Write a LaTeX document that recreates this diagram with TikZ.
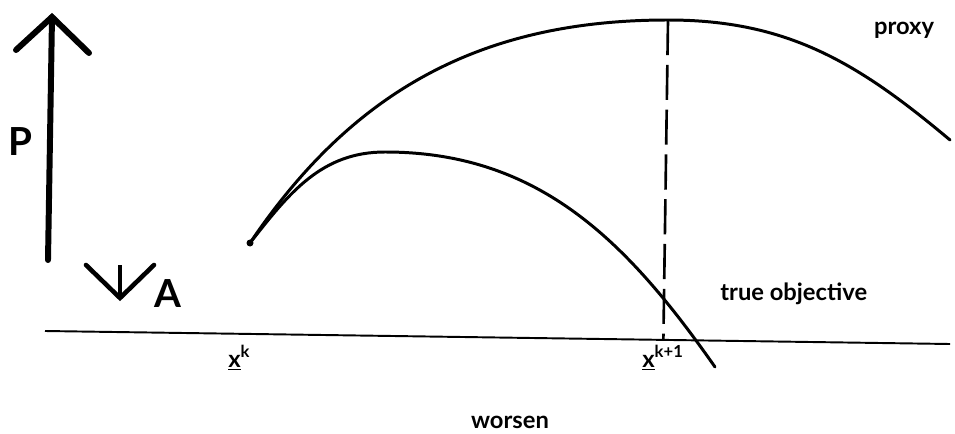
\documentclass[tikz,border=0pt]{standalone}
\usepackage{fontspec}
\setmainfont{Lato}
\usetikzlibrary{positioning, calc}
\tikzset{
  curve/.style={line width=1.7pt, line cap=round},
  axisln/.style={line width=1.1pt},
  bigarr/.style={line width=3.4pt, line cap=round, line join=miter},
  smallarr/.style={line width=2.6pt, line cap=round, line join=miter},
  guide/.style={line width=1.5pt, dash pattern=on 20pt off 5.5pt},
  lbl/.style={font=\fontsize{13.5}{15}\selectfont\bfseries, inner sep=0pt},
  axlbl/.style={font=\fontsize{22}{22}\selectfont\bfseries, inner sep=0pt},
}

\begin{document}
\begin{tikzpicture}[x=0.02cm, y=0.02cm]
  \useasboundingbox (0,0) rectangle (955,433);
  % P / A direction arrows
  \coordinate (pbot) at (48,173);
  \coordinate (ptop) at (52,416);
  \draw[bigarr] (pbot) -- (ptop);
  \draw[bigarr] ($(ptop)+(-36,-33)$) -- (ptop) -- ($(ptop)+(37,-36)$);
  \node[axlbl] (plbl) at (20,291) {P};
  \coordinate (atip) at (120,135);
  \draw[smallarr] ($(atip)+(-34,33)$) -- (atip) -- ($(atip)+(34,33)$);
  \draw[line width=2.2pt] (atip) -- ++(0,33);
  \node[axlbl] (albl) at (168,139) {A};
  % Axis
  \coordinate (axl) at (45,102);
  \coordinate (axr) at (950,89);
  \draw[axisln] (axl) -- (axr);
  % Curves
  \coordinate (xk) at (250,190);
  \coordinate (proxtop) at (668,413);
  \coordinate (proxend) at (950,293);
  \coordinate (truetop) at (385,281);
  \coordinate (trueend) at (715,66);
  \fill (xk) circle (3.5);
  \draw[curve] (xk) to[out=56, in=180] (proxtop) to[out=0, in=140] (proxend);
  \draw[curve] (xk) to[out=52, in=180] (truetop) to[out=0, in=125] (trueend);
  \draw[guide] (proxtop) -- ($(axl)!(proxtop)!(axr)$);
  % Labels
  \node[lbl, anchor=base] (proxy) at (904,398) {proxy};
  \node[lbl, anchor=base west] (truelbl) at (720,133) {true objective};
  \node[lbl, anchor=base] (worsen) at (510,5) {worsen};
  \node[lbl, anchor=base west] (xklbl) at (228,66) {\underline{x}\textsuperscript{k}};
  \node[lbl, anchor=base west] (xk1lbl) at (642,66) {\underline{x}\textsuperscript{k+1}};
\end{tikzpicture}
\end{document}
